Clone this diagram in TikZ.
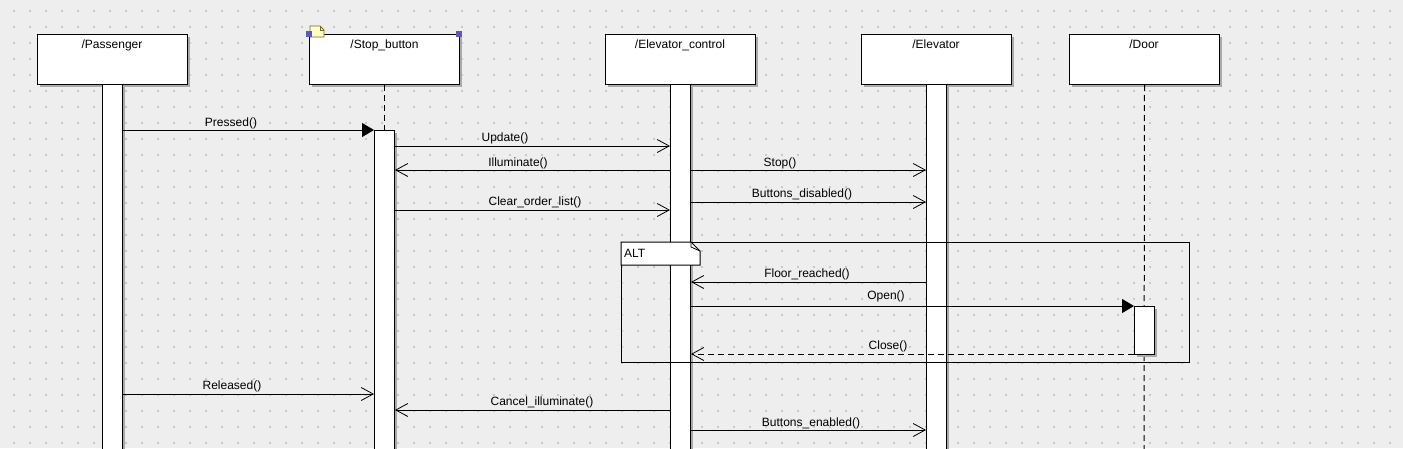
\documentclass[tikz,border=0pt]{standalone}
\usepackage{fontspec}
\setmainfont{Liberation Sans}
\usetikzlibrary{arrows.meta,shadows}
\definecolor{bgc}{RGB}{238,238,238}
\definecolor{dotc}{RGB}{200,200,200}
\definecolor{shadc}{RGB}{170,170,170}
\definecolor{notey}{RGB}{255,255,200}
\definecolor{noteb}{RGB}{110,110,40}
\definecolor{handc}{RGB}{90,90,190}
\begin{document}
\begin{tikzpicture}[x=1pt,y=-1pt,
  font=\fontsize{12}{14}\selectfont,
  shad/.style={drop shadow={shadow xshift=2pt,shadow yshift=-2pt,fill=shadc,opacity=1}},
  objbox/.style={draw=black,line width=1pt,fill=white,minimum width=150pt,minimum height=50pt,inner sep=0pt,anchor=north west,shad},
  actbar/.style={draw=black,line width=1pt,fill=white,minimum width=20pt,inner sep=0pt,anchor=north west,shad},
  ttl/.style={anchor=base,inner sep=0pt},
  lbl/.style={anchor=base,inner sep=0pt},
  lifeline/.style={draw=black,line width=1pt,dash pattern=on 6pt off 4pt},
  msg/.style={draw=black,line width=1pt,-{Straight Barb[length=12pt,width=13pt,line width=0.8pt]}},
  sync/.style={draw=black,line width=1pt,-{Triangle[length=12pt,width=14pt]}},
  reply/.style={msg,dash pattern=on 6pt off 4pt}]
\useasboundingbox (0,0) rectangle (1403,448);
\fill[bgc] (0,0) rectangle (1403,448);
\foreach \gx in {14,30,...,1403}{
  \foreach \gy in {11,27,...,448}{
    \fill[dotc] (\gx-0.7,\gy-0.7) rectangle ++(1.4,1.4);
  }
}
% object boxes
\node[objbox] (bP)  at (37,34)   {};
\node[objbox] (bS)  at (309,34)  {};
\node[objbox] (bEC) at (605,34)  {};
\node[objbox] (bE)  at (861,34)  {};
\node[objbox] (bD)  at (1069,34) {};
\node[ttl] (tP)  at (112,48.5)  {/Passenger};
\node[ttl] (tS)  at (384.5,48.5) {/Stop\_button};
\node[ttl] (tEC) at (680,48.5)  {/Elevator\_control};
\node[ttl] (tE)  at (936,48.5)  {/Elevator};
\node[ttl] (tD)  at (1144,48.5) {/Door};
% lifelines
\coordinate (endS) at (384.5,130);
\coordinate (endD) at (1144,460);
\draw[lifeline] (bS.south) -- (bS.south |- endS);
\draw[lifeline] (bD.south) -- (endD);
% activation bars
\node[actbar,minimum height=380pt] (aP)  at (102,84)  {};
\node[actbar,minimum height=330pt] (aS)  at (374,130) {};
\node[actbar,minimum height=380pt] (aEC) at (670,84)  {};
\node[actbar,minimum height=380pt] (aE)  at (926,84)  {};
\node[actbar,minimum height=48pt]  (aD)  at (1134,306) {};
% ALT frame
\node[draw=black,line width=1pt,minimum width=568pt,minimum height=120pt,inner sep=0pt,anchor=north west] (alt) at (621,242) {};
\draw[line width=1pt,fill=white] (alt.north west) -- ++(70,0) -- ++(9,9) -- ++(0,14) -- ++(-79,0) -- cycle;
\draw[line width=0.8pt] ([xshift=70pt]alt.north west) -- ++(0,5) -- ++(9,4);
\node[anchor=base west,inner sep=0pt] (tALT) at (624,257.5) {ALT};
% message rows
\coordinate (m1) at (0,130);
\coordinate (m2) at (0,146);
\coordinate (m3) at (0,170);
\coordinate (m4) at (0,202);
\coordinate (m5) at (0,210);
\coordinate (m6) at (0,282);
\coordinate (m7) at (0,306);
\coordinate (m8) at (0,354);
\coordinate (m9) at (0,394);
\coordinate (m10) at (0,410);
\coordinate (m11) at (0,430);
\draw[sync] (aP.east |- m1) -- (aS.west |- m1);
\draw[msg] (aS.east |- m2) -- (aEC.west |- m2);
\draw[msg] (aEC.west |- m3) -- (aS.east |- m3);
\draw[msg] (aEC.east |- m3) -- (aE.west |- m3);
\draw[msg] (aEC.east |- m4) -- (aE.west |- m4);
\draw[msg] (aS.east |- m5) -- (aEC.west |- m5);
\draw[msg] (aE.west |- m6) -- (aEC.east |- m6);
\draw[sync] (aEC.east |- m7) -- (aD.west |- m7);
\draw[reply] (aD.west |- m8) -- (aEC.east |- m8);
\draw[msg] (aP.east |- m9) -- (aS.west |- m9);
\draw[msg] (aEC.west |- m10) -- (aS.east |- m10);
\draw[msg] (aEC.east |- m11) -- (aE.west |- m11);
% labels
\node[lbl] (l1)  at (231,126.5) {Pressed()};
\node[lbl] (l2)  at (505,141.5) {Update()};
\node[lbl] (l3)  at (518,166)   {Illuminate()};
\node[lbl] (l4)  at (780,166)   {Stop()};
\node[lbl] (l5)  at (802,197.5) {Buttons\_disabled()};
\node[lbl] (l6)  at (535,205.5) {Clear\_order\_list()};
\node[lbl] (l7)  at (807,277.5) {Floor\_reached()};
\node[lbl] (l8)  at (886,299.5) {Open()};
\node[lbl] (l9)  at (888,349.5) {Close()};
\node[lbl] (l10) at (232,389.5) {Released()};
\node[lbl] (l11) at (542,405.5) {Cancel\_illuminate()};
\node[lbl] (l12) at (811,426.5) {Buttons\_enabled()};
% selection marks on Stop_button
\filldraw[fill=notey,draw=noteb,line width=0.8pt] (310,26) -- (320,26) -- (324,30) -- (324,37) -- (310,37) -- cycle;
\draw[draw=noteb,line width=0.8pt] (320,26) -- (320,30) -- (324,30);
\fill[handc] (306,31) rectangle (312,37);
\fill[handc] (456,31) rectangle (462,37);
\end{tikzpicture}
\end{document}
